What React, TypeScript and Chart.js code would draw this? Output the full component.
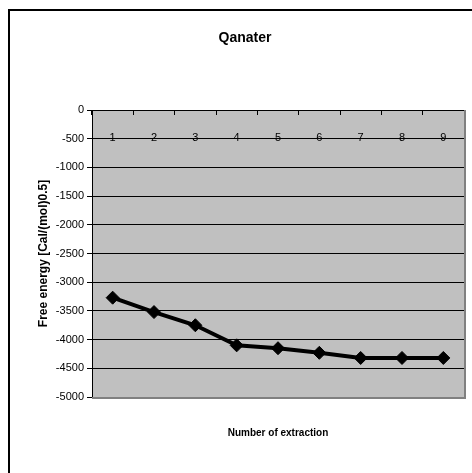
import React, { useEffect, useRef } from "react";
import { Chart, registerables } from "chart.js";

Chart.register(...registerables);

const chartTitle = "Qanater";
const xAxisTitle = "Number of extraction";
const yAxisTitle = "Free energy [Cal/(mol)0.5]";
const categories = ["1", "2", "3", "4", "5", "6", "7", "8", "9"];
const freeEnergy = [-3270, -3520, -3750, -4100, -4150, -4230, -4320, -4320, -4320];
const yMin = -5000;
const yMax = 0;
const yStep = 500;

const FONT = "Arial, 'Liberation Sans', sans-serif";

const decorPlugin = {
  id: "decor",
  beforeDraw(chart: any) {
    const { ctx, chartArea } = chart;
    ctx.save();
    ctx.fillStyle = "#ffffff";
    ctx.fillRect(0, 0, chart.width, chart.height);
    ctx.fillStyle = "#c0c0c0";
    ctx.fillRect(chartArea.left, chartArea.top, chartArea.right - chartArea.left, chartArea.bottom - chartArea.top);
    ctx.restore();
  },
  beforeDatasetsDraw(chart: any) {
    const { ctx, chartArea } = chart;
    ctx.save();
    ctx.strokeStyle = "#808080";
    ctx.lineWidth = 2;
    ctx.beginPath();
    ctx.moveTo(chartArea.left, chartArea.bottom + 1);
    ctx.lineTo(chartArea.right + 1, chartArea.bottom + 1);
    ctx.lineTo(chartArea.right + 1, chartArea.top);
    ctx.stroke();
    ctx.restore();
  },
  afterDraw(chart: any) {
    const { ctx } = chart;
    ctx.save();
    ctx.strokeStyle = "#000000";
    ctx.lineWidth = 2;
    ctx.beginPath();
    ctx.moveTo(9, chart.height);
    ctx.lineTo(9, 10);
    ctx.lineTo(chart.width, 10);
    ctx.stroke();
    ctx.restore();
  },
};

export default function App() {
  const ref = useRef<HTMLCanvasElement>(null);
  useEffect(() => {
    if (!ref.current) return;
    const chart = new Chart(ref.current, {
      type: "line",
      data: {
        labels: categories,
        datasets: [
          {
            data: freeEnergy,
            borderColor: "#000000",
            backgroundColor: "#000000",
            borderWidth: 4,
            pointStyle: "rectRot",
            pointRadius: 6.5,
            pointBorderWidth: 1,
            pointBackgroundColor: "#000000",
            pointBorderColor: "#000000",
            tension: 0,
          },
        ],
      },
      options: {
        responsive: false,
        animation: false,
        events: [],
        layout: { padding: { left: 26, right: 8, top: 0, bottom: 0 } },
        plugins: {
          legend: { display: false },
          tooltip: { enabled: false },
          title: {
            display: true,
            text: chartTitle,
            color: "#000000",
            font: { family: FONT, size: 14, weight: "bold" },
            padding: { top: 30, bottom: 0 },
          },
          subtitle: {
            display: true,
            text: xAxisTitle,
            position: "bottom",
            fullSize: false,
            color: "#000000",
            font: { family: FONT, size: 10, weight: "bold" },
            padding: { top: 30, bottom: 34 },
          },
        },
        scales: {
          x: {
            type: "category",
            position: "top",
            offset: true,
            afterFit: (s: any) => {
              s.height = 63.2;
            },
            grid: {
              offset: true,
              drawOnChartArea: false,
              drawTicks: true,
              tickLength: -5,
              color: "#000000",
              lineWidth: 1,
            },
            border: { display: true, color: "#000000", width: 1 },
            ticks: {
              color: "#000000",
              font: { family: FONT, size: 11 },
              mirror: true,
              padding: 21.5,
              autoSkip: false,
              maxRotation: 0,
            },
          },
          y: {
            min: yMin,
            max: yMax,
            afterFit: (s: any) => {
              s.width = 66;
            },
            grid: {
              color: "#000000",
              lineWidth: 1,
              drawTicks: true,
              tickLength: 5,
            },
            border: { display: true, color: "#000000", width: 1 },
            ticks: {
              stepSize: yStep,
              color: "#000000",
              font: { family: FONT, size: 11 },
              padding: 3,
              callback: (v: any) => String(v),
            },
            title: {
              display: true,
              text: yAxisTitle,
              color: "#000000",
              font: { family: FONT, size: 12, weight: "bold" },
              padding: { top: 10.8, bottom: 0 },
            },
          },
        },
      },
      plugins: [decorPlugin],
    });
    return () => chart.destroy();
  }, []);
  return (
    <canvas
      ref={ref}
      width={472}
      height={473}
      style={{ position: "absolute", left: 0, top: 0, width: 472, height: 473, display: "block" }}
    />
  );
}
